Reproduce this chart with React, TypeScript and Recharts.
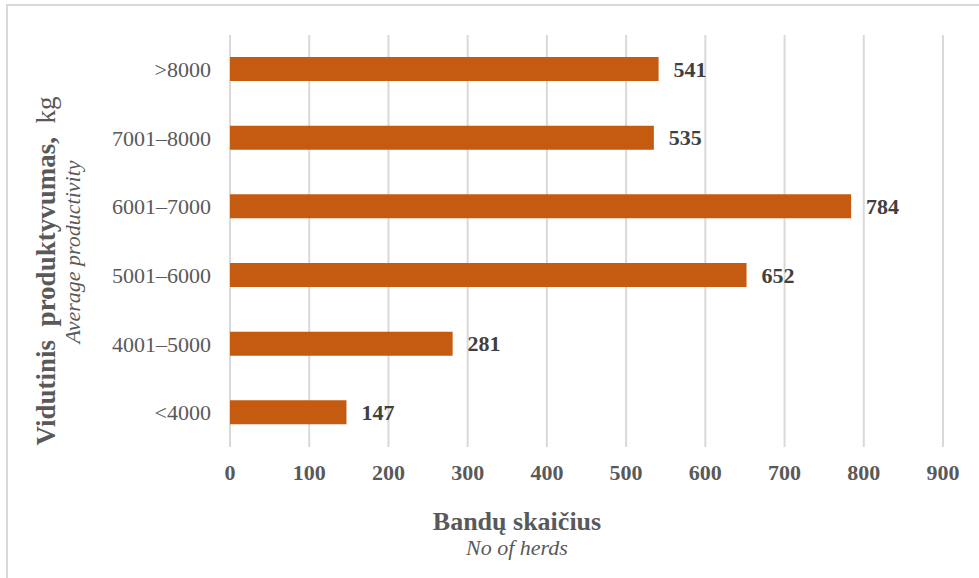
import { Bar, BarChart, CartesianGrid, LabelList, XAxis, YAxis } from "recharts";

const categories = [">8000", "7001–8000", "6001–7000", "5001–6000", "4001–5000", "<4000"];
const herds = [541, 535, 784, 652, 281, 147];
const xTicks = [0, 100, 200, 300, 400, 500, 600, 700, 800, 900];

const data = categories.map((name, i) => ({ name, herds: herds[i] }));

const fontFamily = '"Liberation Serif", "Times New Roman", serif';
const textColor = "#595959";
const barColor = "#c55a11";
const gridColor = "#d9d9d9";

function XTitle(props: any) {
  const { viewBox } = props;
  const cx = 517;
  const top = viewBox.y;
  return (
    <g fontFamily={fontFamily} fill={textColor}>
      <text x={cx} y={top + 83} textAnchor="middle" fontSize={26} fontWeight="bold">
        Bandų skaičius
      </text>
      <text x={cx} y={top + 108} textAnchor="middle" fontSize={22} fontStyle="italic">
        No of herds
      </text>
    </g>
  );
}

function YTitle() {
  return (
    <g fontFamily={fontFamily} fill={textColor}>
      <text
        x={55}
        y={271}
        textAnchor="middle"
        fontSize={27}
        fontWeight="bold"
        style={{ whiteSpace: "pre" }}
        transform="rotate(-90 55 271)"
      >
        {"Vidutinis  produktyvumas,  "}
        <tspan fontWeight="normal">kg</tspan>
      </text>
      <text
        x={80}
        y={252}
        textAnchor="middle"
        fontSize={22}
        fontStyle="italic"
        transform="rotate(-90 80 252)"
      >
        Average productivity
      </text>
    </g>
  );
}

export default function App() {
  return (
    <div
      style={{
        position: "absolute",
        left: 0,
        top: 0,
        width: 979,
        height: 578,
        background: "#fff",
        overflow: "hidden",
      }}
    >
      <div
        style={{
          position: "absolute",
          left: 6,
          top: 4,
          width: 990,
          height: 600,
          borderTop: "2px solid #d9d9d9",
          borderLeft: "2px solid #d9d9d9",
        }}
      />
      <BarChart
        width={979}
        height={578}
        data={data}
        layout="vertical"
        margin={{ top: 35, right: 36, bottom: 101, left: 0 }}
        barCategoryGap={22}
        style={{ position: "absolute", left: 0, top: 0 }}
      >
        <CartesianGrid horizontal={false} stroke={gridColor} strokeWidth={2} />
        <XAxis
          type="number"
          domain={[0, 900]}
          ticks={xTicks}
          axisLine={false}
          tickLine={false}
          tickSize={0}
          tickMargin={17}
          height={30}
          tick={{ fill: textColor, fontSize: 22, fontFamily, fontWeight: "bold" }}
          label={<XTitle />}
        />
        <YAxis
          type="category"
          dataKey="name"
          width={230}
          axisLine={false}
          tickLine={false}
          tickSize={0}
          tickMargin={19}
          tick={{ fill: textColor, fontSize: 22, fontFamily }}
          label={<YTitle />}
        />
        <Bar dataKey="herds" fill={barColor} barSize={24} isAnimationActive={false}>
          <LabelList
            dataKey="herds"
            position="right"
            offset={15}
            fill="#404040"
            fontSize={22}
            fontWeight="bold"
            fontFamily={fontFamily}
          />
        </Bar>
      </BarChart>
    </div>
  );
}
